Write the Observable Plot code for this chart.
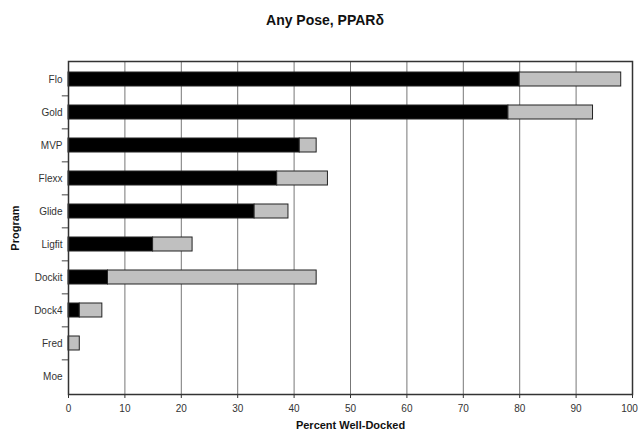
<!DOCTYPE html>
<html><head><meta charset="utf-8">
<script src="https://cdn.jsdelivr.net/npm/d3@7"></script>
<script src="https://cdn.jsdelivr.net/npm/@observablehq/plot@0.6"></script>
<style>
body{margin:0;background:#fff;font-family:"Liberation Sans",Arial,sans-serif;}
#title{height:40px;line-height:40px;text-align:center;font-weight:bold;font-size:14px;color:#111;padding-left:12px;box-sizing:border-box;}
#chart svg{display:block;}
</style></head><body>
<div id="title">Any Pose, PPARδ</div>
<div id="chart"></div>
<script>
const programs = ["Flo","Gold","MVP","Flexx","Glide","Ligfit","Dockit","Dock4","Fred","Moe"];
const blackValues = [80,78,41,37,33,15,7,2,0,0];
const totalValues = [98,93,44,46,39,22,44,6,2,0];
const xTicks = [0,10,20,30,40,50,60,70,80,90,100];

const rows = [];
programs.forEach((p,i)=>{
  rows.push({program:p, part:"best", value:blackValues[i]});
  rows.push({program:p, part:"any", value:totalValues[i]-blackValues[i]});
});

const H = 393, mt = 21, mb = 39;
const step = (H - mt - mb) / programs.length;

const chart = Plot.plot({
  width: 638, height: H,
  marginLeft: 68, marginRight: 6, marginTop: mt, marginBottom: mb,
  style: {fontFamily: '"Liberation Sans", Arial, sans-serif', fontSize: "10px", color: "#333"},
  x: {domain:[0,100], ticks: xTicks, tickSize: 4, label: "Percent Well-Docked", labelAnchor: "center", labelArrow: "none", labelOffset: 34, tickPadding: 6},
  y: {domain: programs, paddingInner: 0.58, paddingOuter: 0.29, tickSize: 0, label: "Program", labelAnchor: "center", labelArrow: "none", labelOffset: 57, tickPadding: 6},
  marks: [
    Plot.ruleX(xTicks.slice(1,-1), {stroke:"#777", strokeWidth:1}),
    Plot.barX(rows, Plot.stackX({y:"program", x:"value", fill: d=>d.part==="best"?"#000":"#c0c0c0", stroke:"#222", strokeWidth:1, order: null})),
    Plot.ruleY(programs.slice(1), {y: d=>d, x1: -1.1, x2: 0, dy: -step/2, stroke:"#444", clip:false}),
    Plot.frame({stroke:"#333", strokeWidth:1.5})
  ]
});
d3.select(chart).selectAll("[aria-label='x-axis label'] text, [aria-label='y-axis label'] text")
  .style("font-weight","bold").style("font-size","11px").style("fill","#111");
const xt = d3.select(chart).selectAll("[aria-label='x-axis tick label'] text").nodes();
if (xt.length) d3.select(xt[xt.length-1]).attr("dx", -3);
document.getElementById("chart").appendChild(chart);
</script>
</body></html>
